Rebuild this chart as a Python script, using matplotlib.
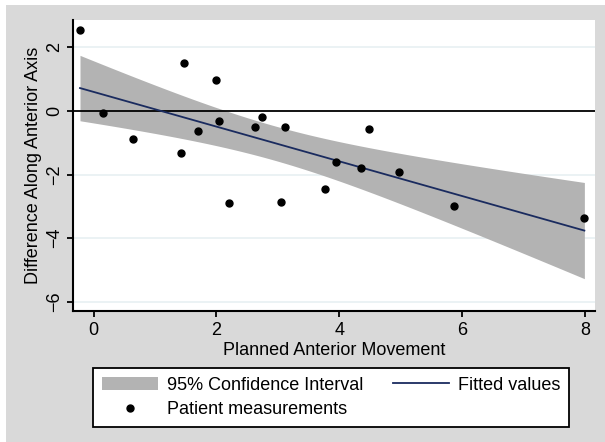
import numpy as np
import matplotlib.pyplot as plt
from matplotlib.patches import Rectangle, Patch
from matplotlib.lines import Line2D

plt.rcParams['font.family'] = ['Liberation Sans', 'DejaVu Sans']

planned = [-0.22, 0.16, 0.65, 1.43, 1.48, 1.70, 2.00, 2.05, 2.21, 2.63,
           2.75, 3.05, 3.12, 3.76, 3.95, 4.36, 4.48, 4.97, 5.87, 7.99]
difference = [2.55, -0.07, -0.89, -1.33, 1.52, -0.62, 0.97, -0.32, -2.88, -0.49,
              -0.19, -2.87, -0.52, -2.45, -1.62, -1.78, -0.57, -1.93, -3.00, -3.38]

x_ticks = [0, 2, 4, 6, 8]
y_ticks = [-6, -4, -2, 0, 2]
t_975 = 2.1009  # t quantile, 18 df

x = np.array(planned)
y = np.array(difference)
n = len(x)
slope, intercept = np.polyfit(x, y, 1)
resid = y - (intercept + slope * x)
s = np.sqrt(np.sum(resid ** 2) / (n - 2))
sxx = np.sum((x - x.mean()) ** 2)
xg = np.linspace(x.min(), x.max(), 200)
yg = intercept + slope * xg
half = t_975 * s * np.sqrt(1 / n + (xg - x.mean()) ** 2 / sxx)

fig = plt.figure(figsize=(6.05, 4.42), dpi=100, facecolor='white')
fig.patches.append(Rectangle((6 / 605, 0), 1, 1 - 5 / 442, transform=fig.transFigure,
                             facecolor='#d9d9d9', edgecolor='none', zorder=-10))
ax = fig.add_axes([72.5 / 605, 1 - 311 / 442, (595 - 72.5) / 605, (311 - 20) / 442])
ax.set_facecolor('white')

ax.fill_between(xg, yg - half, yg + half, color='#b3b3b3', lw=0, zorder=2)
ax.axhline(0, color='black', lw=1.3, zorder=3)
ax.plot(xg, yg, color='#1a2b5f', lw=1.3, zorder=4)
ax.plot(x, y, 'o', color='black', markersize=5, zorder=5)

ax.set_xlim(-0.342, 8.163)
ax.set_ylim(-6.29, 2.86)
ax.set_xticks(x_ticks)
ax.set_yticks(y_ticks)
for v in y_ticks:
    if v != 0:
        ax.axhline(v, color='#e8f0f2', lw=1.2, zorder=1)

for side in ['top', 'right']:
    ax.spines[side].set_visible(False)
for side in ['left', 'bottom']:
    ax.spines[side].set_linewidth(1.5)
ax.tick_params(direction='out', length=4.5, width=1.3, labelsize=13, colors='black')
ax.tick_params(axis='y', pad=2)
plt.setp(ax.get_yticklabels(), rotation=90, va='center')

ax.set_xlabel('Planned Anterior Movement', fontsize=13, labelpad=2)
ax.set_ylabel('Difference Along Anterior Axis', fontsize=13, labelpad=3)

handles = [Patch(facecolor='#b3b3b3', edgecolor='none'),
           Line2D([], [], ls='none', marker='o', color='black', markersize=5),
           Line2D([], [], color='#1a2b5f', lw=1.3)]
labels = ['95% Confidence Interval', 'Patient measurements', 'Fitted values']
leg = fig.legend(handles, labels, loc='upper left', bbox_to_anchor=(93.3 / 605, 1 - 367.7 / 442),
                 ncol=2, fontsize=13, frameon=True, fancybox=False, edgecolor='black',
                 handlelength=3.1, handletextpad=0.5, columnspacing=1.6,
                 labelspacing=0.4, borderpad=0.5, borderaxespad=0)
leg.get_frame().set_linewidth(1.3)
leg.get_frame().set_facecolor('white')
leg.get_frame().set_alpha(1)

fig.savefig('out.png', dpi=100, facecolor=fig.get_facecolor())
